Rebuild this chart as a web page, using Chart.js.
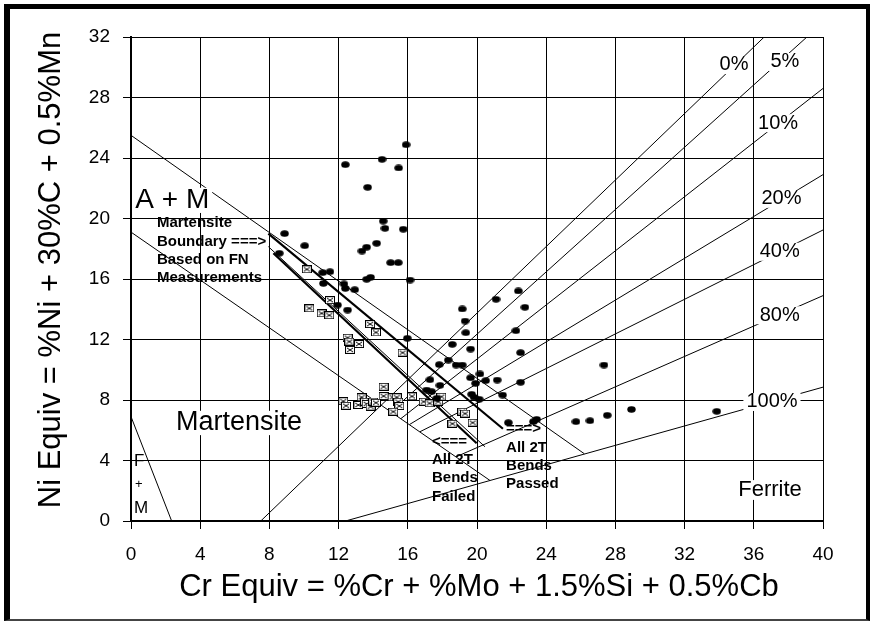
<!DOCTYPE html>
<html>
<head>
<meta charset="utf-8">
<script src="https://cdn.jsdelivr.net/npm/chart.js@4.4.1/dist/chart.umd.min.js"></script>
<style>
  html, body { margin: 0; padding: 0; background: #fff; }
  #wrap { position: relative; width: 873px; height: 623px; }
  #frame { position: absolute; left: 4px; top: 4px; right: 3px; bottom: 2px; box-sizing: border-box;
    border-left: 6px solid #000; border-top: 5px solid #000; border-right: 4px solid #000;
    border-bottom: 2px solid #444; pointer-events: none; }
</style>
</head>
<body>
<div id="wrap"><canvas id="chart" width="873" height="623"></canvas><div id="frame"></div></div>
<script>
// axis ticks
const crTicks = [0, 4, 8, 12, 16, 20, 24, 28, 32, 36, 40];
const niTicks = [0, 4, 8, 12, 16, 20, 24, 28, 32];
const xTitle = 'Cr Equiv = %Cr + %Mo + 1.5%Si + 0.5%Cb';
const yTitle = 'Ni Equiv = %Ni + 30%C + 0.5%Mn';

// filled dots
const dotCr = [12.39, 13.68, 14.51, 15.47, 15.9,
  8.88, 10.04, 8.57, 11.08, 11.5, 11.12, 12.31, 12.39, 12.93, 11.94, 12.52,
  14.58, 14.68, 15.74, 14.2, 13.62, 13.35, 15.01, 15.45, 13.62, 13.85, 16.13, 15.97,
  22.39, 21.1, 22.77, 19.15, 19.31, 19.35, 22.25, 19.63, 18.57, 22.52, 27.34, 18.34,
  17.82, 18.79, 19.15, 19.63, 20.17, 19.92, 20.5, 21.17, 22.52, 17.28, 17.86, 17.09,
  17.38, 19.69, 19.83, 20.13, 21.48, 17.67, 21.81, 23.26, 23.45, 25.72, 26.53, 27.53,
  28.93, 33.86];
const dotNi = [23.56, 22.06, 23.91, 23.34, 24.88,
  19.0, 18.2, 17.7, 16.42, 16.48, 15.71, 15.67, 15.38, 15.29, 14.28, 13.95,
  19.83, 19.35, 19.29, 18.36, 18.1, 17.85, 17.08, 17.08, 15.98, 16.11, 15.93, 12.08,
  15.21, 14.66, 14.13, 14.02, 13.22, 12.45, 12.58, 11.37, 11.68, 11.13, 10.31, 10.64,
  10.34, 10.31, 10.31, 9.47, 9.72, 9.1, 9.28, 9.32, 9.17, 9.34, 8.97, 8.66,
  8.55, 8.38, 8.18, 8.05, 8.33, 8.11, 6.5, 6.57, 6.72, 6.57, 6.63, 6.99,
  7.38, 7.25];

// boxed X markers
const boxCr = [10.16, 11.5, 10.31, 11.02, 11.46, 13.82, 14.16, 12.52, 12.62, 13.18, 12.66, 15.7,
  14.6, 14.6, 12.27, 12.43, 13.14, 13.33, 13.53, 13.62, 13.85, 14.0, 14.16, 15.12, 15.36,
  15.45, 15.51, 15.16, 16.24, 16.92, 17.26, 17.76, 17.94, 19.15, 19.31, 18.58, 19.75];
const boxNi = [16.64, 14.6, 14.06, 13.73, 13.6, 13.02, 12.47, 12.12, 11.86, 11.7, 11.31, 11.13,
  8.88, 8.26, 7.92, 7.62, 7.67, 8.18, 7.89, 7.74, 7.56, 7.9, 7.82, 8.18, 8.18,
  7.89, 7.6, 7.23, 8.24, 7.89, 7.78, 7.89, 8.22, 7.23, 7.1, 6.43, 6.5];

// ferrite number lines [x1, y1, x2, y2]
const fnNames = ['0%', '5%', '10%', '20%', '40%', '80%', '100%'];
const fnLines = [
  [7.5, 0, 36.6, 32],
  [15.03, 7.23, 39.07, 32],
  [15.6, 6.77, 40, 28.6],
  [16.1, 6.38, 40, 22.9],
  [16.7, 5.9, 40, 19.24],
  [18.8, 4.25, 40, 14.9],
  [12.4, 0, 40, 8.85]
];

// boundary lines [x1, y1, x2, y2]
const thinLines = [
  [0, 25.5, 26.2, 4.45],
  [0, 19.1, 20.75, 2.68],
  [7.94, 18.14, 20.46, 4.91],
  [0, 6.9, 2.35, 0]
];
const thickLines = [
  [7.94, 19.0, 21.5, 6.1],
  [8.23, 17.7, 19.98, 5.14]
];

function makeDot() {
  const c = document.createElement('canvas');
  c.width = 9; c.height = 7;
  const g = c.getContext('2d');
  g.fillStyle = '#000';
  g.beginPath();
  g.ellipse(4.5, 3.5, 4.2, 3.2, 0, 0, Math.PI * 2);
  g.fill();
  return c;
}

function makeBox() {
  const c = document.createElement('canvas');
  c.width = 10; c.height = 8;
  const g = c.getContext('2d');
  g.fillStyle = '#fff';
  g.fillRect(0, 0, 10, 8);
  g.strokeStyle = '#000';
  g.lineWidth = 1;
  g.strokeRect(0.5, 0.5, 9, 7);
  g.beginPath();
  g.moveTo(2, 2); g.lineTo(8, 6);
  g.moveTo(8, 2); g.lineTo(2, 6);
  g.stroke();
  return c;
}

function segment(s, width) {
  return {
    data: [{x: s[0], y: s[1]}, {x: s[2], y: s[3]}],
    showLine: true,
    borderColor: '#000',
    borderWidth: width,
    pointRadius: 0,
    order: 2
  };
}

const datasets = [
  {
    data: dotCr.map((x, i) => ({x: x, y: dotNi[i]})),
    pointStyle: makeDot(),
    pointRadius: 4,
    order: 0
  },
  {
    data: boxCr.map((x, i) => ({x: x, y: boxNi[i]})),
    pointStyle: makeBox(),
    pointRadius: 4,
    order: 0
  }
];
fnLines.forEach(s => datasets.push(segment(s, 1)));
thinLines.forEach(s => datasets.push(segment(s, 1)));
thickLines.forEach(s => datasets.push(segment(s, 2.2)));

const FONT = '"Liberation Sans", Arial, sans-serif';

// text on the plot, in data units
const labelPlugin = {
  id: 'labels',
  afterDatasetsDraw(chart) {
    const ctx = chart.ctx;
    const xs = chart.scales.x, ys = chart.scales.y;
    const px = v => xs.getPixelForValue(v);
    const py = v => ys.getPixelForValue(v);

    function boxed(text, x, y, size, align) {
      ctx.font = size + 'px ' + FONT;
      const w = ctx.measureText(text).width;
      const left = align === 'left' ? px(x) : px(x) - w / 2;
      ctx.fillStyle = '#fff';
      ctx.fillRect(left - 3, py(y) - size * 0.45, w + 6, size * 0.9);
      ctx.fillStyle = '#000';
      ctx.textAlign = 'left';
      ctx.textBaseline = 'middle';
      ctx.fillText(text, left, py(y));
    }
    function plain(text, x, y, font) {
      ctx.font = font;
      ctx.fillStyle = '#000';
      ctx.textAlign = 'left';
      ctx.textBaseline = 'middle';
      ctx.fillText(text, px(x), py(y));
    }

    ctx.save();
    const fnPos = [[34.86, 30.15], [37.8, 30.35], [37.4, 26.3], [37.6, 21.3], [37.5, 17.8], [37.5, 13.6], [37.05, 7.87]];
    fnNames.forEach((t, i) => boxed(t, fnPos[i][0], fnPos[i][1], 20, 'center'));

    boxed('A + M', 0.25, 21.2, 28, 'left');
    boxed('Martensite', 2.6, 6.48, 27, 'left');
    boxed('Ferrite', 35.1, 2.05, 22, 'left');

    plain('F', 0.17, 3.97, '17px ' + FONT);
    plain('+', 0.23, 2.45, '13px ' + FONT);
    plain('M', 0.17, 0.86, '17px ' + FONT);

    const bold = 'bold 15px ' + FONT;
    plain('Martensite', 1.5, 19.7, bold);
    plain('Boundary ===>', 1.5, 18.45, bold);
    plain('Based on FN', 1.5, 17.26, bold);
    plain('Measurements', 1.5, 16.07, bold);

    plain('<===', 17.4, 5.22, bold);
    plain('All 2T', 17.4, 4.03, bold);
    plain('Bends', 17.4, 2.84, bold);
    plain('Failed', 17.4, 1.59, bold);

    plain('===>', 21.68, 6.08, bold);
    plain('All 2T', 21.68, 4.83, bold);
    plain('Bends', 21.68, 3.64, bold);
    plain('Passed', 21.68, 2.45, bold);
    ctx.restore();
  },
  afterDraw(chart) {
    const ctx = chart.ctx;
    ctx.save();
    ctx.fillStyle = '#000';
    ctx.font = '31px ' + FONT;
    ctx.textAlign = 'center';
    ctx.textBaseline = 'middle';
    ctx.fillText(xTitle, 479, 587);
    ctx.translate(51, 270);
    ctx.rotate(-Math.PI / 2);
    ctx.fillText(yTitle, 0, 0);
    ctx.restore();
  }
};

new Chart(document.getElementById('chart'), {
  type: 'scatter',
  data: { datasets: datasets },
  options: {
    responsive: false,
    animation: false,
    events: [],
    layout: { padding: { top: 37, right: 50, left: 0, bottom: 0 } },
    plugins: { legend: { display: false }, tooltip: { enabled: false } },
    scales: {
      x: {
        min: 0, max: 40,
        afterBuildTicks: s => { s.ticks = crTicks.map(v => ({value: v})); },
        afterFit: s => { s.height = 102; },
        grid: { color: '#000', lineWidth: 1, tickLength: 8, tickColor: '#000' },
        border: { color: '#000', width: 2 },
        ticks: { color: '#000', padding: 14, maxRotation: 0, font: { family: FONT, size: 19 } }
      },
      y: {
        min: 0, max: 32,
        afterBuildTicks: s => { s.ticks = niTicks.map(v => ({value: v})); },
        afterFit: s => { s.width = 131; },
        grid: { color: '#000', lineWidth: 1, tickLength: 8, tickColor: '#000' },
        border: { color: '#000', width: 2 },
        ticks: { color: '#000', padding: 13, font: { family: FONT, size: 19 } }
      }
    }
  },
  plugins: [labelPlugin]
});
</script>
</body>
</html>
